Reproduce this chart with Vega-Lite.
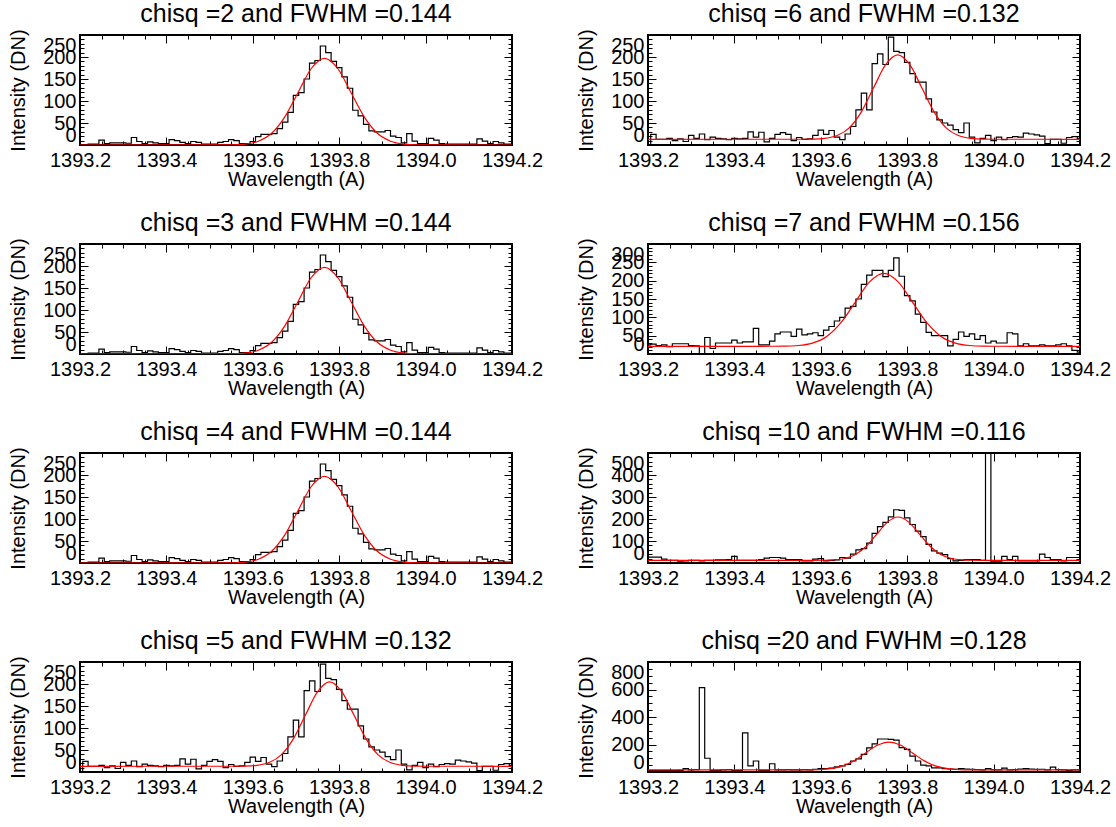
{
"$schema": "https://vega.github.io/schema/vega-lite/v6.json",
"background": "white",
"padding": {"left": 7, "top": 0, "right": 36, "bottom": 5},
"config": {
  "font": "Liberation Sans",
  "view": {"stroke": "black", "strokeWidth": 2},
  "axis": {"domain": false, "grid": false, "tickColor": "black", "tickWidth": 1, "labelColor": "black", "labelFontSize": 20, "labelFont": "Liberation Sans", "titleColor": "black", "titleFontSize": 20, "titleFontWeight": "normal", "titleFont": "Liberation Sans", "labelOverlap": false},
  "axisX": {"labelFlush": false},
  "title": {"fontSize": 25, "fontWeight": "normal", "font": "Liberation Sans", "color": "black", "offset": 2}
},
"datasets": {
"spec": [
{"s":"A","x":1393.2,"y":1},{"s":"A","x":1393.2125,"y":1},{"s":"A","x":1393.225,"y":2},{"s":"A","x":1393.2375,"y":2},{"s":"A","x":1393.25,"y":11},{"s":"A","x":1393.2625,"y":3},{"s":"A","x":1393.275,"y":5},{"s":"A","x":1393.2875,"y":5},{"s":"A","x":1393.3,"y":5},{"s":"A","x":1393.3125,"y":4},
{"s":"A","x":1393.325,"y":17},{"s":"A","x":1393.3375,"y":8},{"s":"A","x":1393.35,"y":3},{"s":"A","x":1393.3625,"y":7},{"s":"A","x":1393.375,"y":5},{"s":"A","x":1393.3875,"y":3},{"s":"A","x":1393.4,"y":3},{"s":"A","x":1393.4125,"y":12},{"s":"A","x":1393.425,"y":10},{"s":"A","x":1393.4375,"y":6},
{"s":"A","x":1393.45,"y":3},{"s":"A","x":1393.4625,"y":8},{"s":"A","x":1393.475,"y":6},{"s":"A","x":1393.4875,"y":2},{"s":"A","x":1393.5,"y":2},{"s":"A","x":1393.5125,"y":2},{"s":"A","x":1393.525,"y":6},{"s":"A","x":1393.5375,"y":8},{"s":"A","x":1393.55,"y":12},{"s":"A","x":1393.5625,"y":10},
{"s":"A","x":1393.575,"y":3},{"s":"A","x":1393.5875,"y":3},{"s":"A","x":1393.6,"y":8},{"s":"A","x":1393.6125,"y":19},{"s":"A","x":1393.625,"y":24},{"s":"A","x":1393.6375,"y":24},{"s":"A","x":1393.65,"y":26},{"s":"A","x":1393.6625,"y":37},{"s":"A","x":1393.675,"y":52},{"s":"A","x":1393.6875,"y":74},
{"s":"A","x":1393.7,"y":113},{"s":"A","x":1393.7125,"y":119},{"s":"A","x":1393.725,"y":150},{"s":"A","x":1393.7375,"y":186},{"s":"A","x":1393.75,"y":192},{"s":"A","x":1393.7625,"y":225},{"s":"A","x":1393.775,"y":210},{"s":"A","x":1393.7875,"y":190},{"s":"A","x":1393.8,"y":176},{"s":"A","x":1393.8125,"y":155},
{"s":"A","x":1393.825,"y":129},{"s":"A","x":1393.8375,"y":79},{"s":"A","x":1393.85,"y":66},{"s":"A","x":1393.8625,"y":47},{"s":"A","x":1393.875,"y":32},{"s":"A","x":1393.8875,"y":30},{"s":"A","x":1393.9,"y":30},{"s":"A","x":1393.9125,"y":33},{"s":"A","x":1393.925,"y":20},{"s":"A","x":1393.9375,"y":17},
{"s":"A","x":1393.95,"y":5},{"s":"A","x":1393.9625,"y":26},{"s":"A","x":1393.975,"y":9},{"s":"A","x":1393.9875,"y":3},{"s":"A","x":1394,"y":3},{"s":"A","x":1394.0125,"y":15},{"s":"A","x":1394.025,"y":11},{"s":"A","x":1394.0375,"y":3},{"s":"A","x":1394.05,"y":2},{"s":"A","x":1394.0625,"y":2},
{"s":"A","x":1394.075,"y":2},{"s":"A","x":1394.0875,"y":2},{"s":"A","x":1394.1,"y":2},{"s":"A","x":1394.1125,"y":2},{"s":"A","x":1394.125,"y":14},{"s":"A","x":1394.1375,"y":9},{"s":"A","x":1394.15,"y":3},{"s":"A","x":1394.1625,"y":8},{"s":"A","x":1394.175,"y":5},{"s":"A","x":1394.1875,"y":2},{"s":"A","x":1394.2,"y":2},
{"s":"B","x":1393.2,"y":0},{"s":"B","x":1393.2125,"y":24},{"s":"B","x":1393.225,"y":13},{"s":"B","x":1393.2375,"y":13},{"s":"B","x":1393.25,"y":15},{"s":"B","x":1393.2625,"y":10},{"s":"B","x":1393.275,"y":14},{"s":"B","x":1393.2875,"y":8},{"s":"B","x":1393.3,"y":22},{"s":"B","x":1393.3125,"y":15},
{"s":"B","x":1393.325,"y":25},{"s":"B","x":1393.3375,"y":12},{"s":"B","x":1393.35,"y":18},{"s":"B","x":1393.3625,"y":15},{"s":"B","x":1393.375,"y":14},{"s":"B","x":1393.3875,"y":12},{"s":"B","x":1393.4,"y":15},{"s":"B","x":1393.4125,"y":14},{"s":"B","x":1393.425,"y":15},{"s":"B","x":1393.4375,"y":30},
{"s":"B","x":1393.45,"y":18},{"s":"B","x":1393.4625,"y":29},{"s":"B","x":1393.475,"y":7},{"s":"B","x":1393.4875,"y":15},{"s":"B","x":1393.5,"y":24},{"s":"B","x":1393.5125,"y":28},{"s":"B","x":1393.525,"y":24},{"s":"B","x":1393.5375,"y":10},{"s":"B","x":1393.55,"y":17},{"s":"B","x":1393.5625,"y":13},
{"s":"B","x":1393.575,"y":14},{"s":"B","x":1393.5875,"y":22},{"s":"B","x":1393.6,"y":34},{"s":"B","x":1393.6125,"y":24},{"s":"B","x":1393.625,"y":33},{"s":"B","x":1393.6375,"y":18},{"s":"B","x":1393.65,"y":12},{"s":"B","x":1393.6625,"y":25},{"s":"B","x":1393.675,"y":42},{"s":"B","x":1393.6875,"y":80},
{"s":"B","x":1393.7,"y":118},{"s":"B","x":1393.7125,"y":80},{"s":"B","x":1393.725,"y":185},{"s":"B","x":1393.7375,"y":207},{"s":"B","x":1393.75,"y":183},{"s":"B","x":1393.7625,"y":245},{"s":"B","x":1393.775,"y":213},{"s":"B","x":1393.7875,"y":210},{"s":"B","x":1393.8,"y":188},{"s":"B","x":1393.8125,"y":162},
{"s":"B","x":1393.825,"y":143},{"s":"B","x":1393.8375,"y":143},{"s":"B","x":1393.85,"y":105},{"s":"B","x":1393.8625,"y":75},{"s":"B","x":1393.875,"y":57},{"s":"B","x":1393.8875,"y":50},{"s":"B","x":1393.9,"y":45},{"s":"B","x":1393.9125,"y":35},{"s":"B","x":1393.925,"y":28},{"s":"B","x":1393.9375,"y":50},
{"s":"B","x":1393.95,"y":18},{"s":"B","x":1393.9625,"y":5},{"s":"B","x":1393.975,"y":15},{"s":"B","x":1393.9875,"y":22},{"s":"B","x":1394,"y":10},{"s":"B","x":1394.0125,"y":18},{"s":"B","x":1394.025,"y":12},{"s":"B","x":1394.0375,"y":17},{"s":"B","x":1394.05,"y":19},{"s":"B","x":1394.0625,"y":18},
{"s":"B","x":1394.075,"y":27},{"s":"B","x":1394.0875,"y":25},{"s":"B","x":1394.1,"y":23},{"s":"B","x":1394.1125,"y":20},{"s":"B","x":1394.125,"y":3},{"s":"B","x":1394.1375,"y":13},{"s":"B","x":1394.15,"y":13},{"s":"B","x":1394.1625,"y":4},{"s":"B","x":1394.175,"y":17},{"s":"B","x":1394.1875,"y":19},{"s":"B","x":1394.2,"y":15},
{"s":"C","x":1393.2,"y":25},{"s":"C","x":1393.2125,"y":27},{"s":"C","x":1393.225,"y":23},{"s":"C","x":1393.2375,"y":25},{"s":"C","x":1393.25,"y":20},{"s":"C","x":1393.2625,"y":28},{"s":"C","x":1393.275,"y":28},{"s":"C","x":1393.2875,"y":28},{"s":"C","x":1393.3,"y":23},{"s":"C","x":1393.3125,"y":22},
{"s":"C","x":1393.325,"y":0},{"s":"C","x":1393.3375,"y":45},{"s":"C","x":1393.35,"y":15},{"s":"C","x":1393.3625,"y":30},{"s":"C","x":1393.375,"y":30},{"s":"C","x":1393.3875,"y":30},{"s":"C","x":1393.4,"y":38},{"s":"C","x":1393.4125,"y":30},{"s":"C","x":1393.425,"y":33},{"s":"C","x":1393.4375,"y":33},
{"s":"C","x":1393.45,"y":70},{"s":"C","x":1393.4625,"y":25},{"s":"C","x":1393.475,"y":25},{"s":"C","x":1393.4875,"y":35},{"s":"C","x":1393.5,"y":55},{"s":"C","x":1393.5125,"y":60},{"s":"C","x":1393.525,"y":60},{"s":"C","x":1393.5375,"y":48},{"s":"C","x":1393.55,"y":68},{"s":"C","x":1393.5625,"y":52},
{"s":"C","x":1393.575,"y":55},{"s":"C","x":1393.5875,"y":58},{"s":"C","x":1393.6,"y":50},{"s":"C","x":1393.6125,"y":65},{"s":"C","x":1393.625,"y":75},{"s":"C","x":1393.6375,"y":90},{"s":"C","x":1393.65,"y":100},{"s":"C","x":1393.6625,"y":125},{"s":"C","x":1393.675,"y":130},{"s":"C","x":1393.6875,"y":150},
{"s":"C","x":1393.7,"y":190},{"s":"C","x":1393.7125,"y":215},{"s":"C","x":1393.725,"y":228},{"s":"C","x":1393.7375,"y":228},{"s":"C","x":1393.75,"y":211},{"s":"C","x":1393.7625,"y":228},{"s":"C","x":1393.775,"y":262},{"s":"C","x":1393.7875,"y":212},{"s":"C","x":1393.8,"y":159},{"s":"C","x":1393.8125,"y":145},
{"s":"C","x":1393.825,"y":109},{"s":"C","x":1393.8375,"y":86},{"s":"C","x":1393.85,"y":59},{"s":"C","x":1393.8625,"y":50},{"s":"C","x":1393.875,"y":50},{"s":"C","x":1393.8875,"y":50},{"s":"C","x":1393.9,"y":22},{"s":"C","x":1393.9125,"y":40},{"s":"C","x":1393.925,"y":60},{"s":"C","x":1393.9375,"y":48},
{"s":"C","x":1393.95,"y":55},{"s":"C","x":1393.9625,"y":40},{"s":"C","x":1393.975,"y":50},{"s":"C","x":1393.9875,"y":30},{"s":"C","x":1394,"y":35},{"s":"C","x":1394.0125,"y":30},{"s":"C","x":1394.025,"y":30},{"s":"C","x":1394.0375,"y":58},{"s":"C","x":1394.05,"y":55},{"s":"C","x":1394.0625,"y":22},
{"s":"C","x":1394.075,"y":28},{"s":"C","x":1394.0875,"y":22},{"s":"C","x":1394.1,"y":22},{"s":"C","x":1394.1125,"y":25},{"s":"C","x":1394.125,"y":22},{"s":"C","x":1394.1375,"y":22},{"s":"C","x":1394.15,"y":25},{"s":"C","x":1394.1625,"y":28},{"s":"C","x":1394.175,"y":22},{"s":"C","x":1394.1875,"y":10},{"s":"C","x":1394.2,"y":5},
{"s":"D","x":1393.2,"y":27},{"s":"D","x":1393.2125,"y":27},{"s":"D","x":1393.225,"y":27},{"s":"D","x":1393.2375,"y":18},{"s":"D","x":1393.25,"y":12},{"s":"D","x":1393.2625,"y":12},{"s":"D","x":1393.275,"y":8},{"s":"D","x":1393.2875,"y":10},{"s":"D","x":1393.3,"y":12},{"s":"D","x":1393.3125,"y":12},
{"s":"D","x":1393.325,"y":10},{"s":"D","x":1393.3375,"y":12},{"s":"D","x":1393.35,"y":12},{"s":"D","x":1393.3625,"y":14},{"s":"D","x":1393.375,"y":14},{"s":"D","x":1393.3875,"y":15},{"s":"D","x":1393.4,"y":30},{"s":"D","x":1393.4125,"y":12},{"s":"D","x":1393.425,"y":12},{"s":"D","x":1393.4375,"y":12},
{"s":"D","x":1393.45,"y":12},{"s":"D","x":1393.4625,"y":15},{"s":"D","x":1393.475,"y":22},{"s":"D","x":1393.4875,"y":25},{"s":"D","x":1393.5,"y":25},{"s":"D","x":1393.5125,"y":22},{"s":"D","x":1393.525,"y":15},{"s":"D","x":1393.5375,"y":15},{"s":"D","x":1393.55,"y":15},{"s":"D","x":1393.5625,"y":10},
{"s":"D","x":1393.575,"y":10},{"s":"D","x":1393.5875,"y":18},{"s":"D","x":1393.6,"y":20},{"s":"D","x":1393.6125,"y":10},{"s":"D","x":1393.625,"y":12},{"s":"D","x":1393.6375,"y":14},{"s":"D","x":1393.65,"y":25},{"s":"D","x":1393.6625,"y":22},{"s":"D","x":1393.675,"y":40},{"s":"D","x":1393.6875,"y":60},
{"s":"D","x":1393.7,"y":65},{"s":"D","x":1393.7125,"y":90},{"s":"D","x":1393.725,"y":135},{"s":"D","x":1393.7375,"y":165},{"s":"D","x":1393.75,"y":185},{"s":"D","x":1393.7625,"y":210},{"s":"D","x":1393.775,"y":242},{"s":"D","x":1393.7875,"y":239},{"s":"D","x":1393.8,"y":205},{"s":"D","x":1393.8125,"y":175},
{"s":"D","x":1393.825,"y":145},{"s":"D","x":1393.8375,"y":120},{"s":"D","x":1393.85,"y":85},{"s":"D","x":1393.8625,"y":55},{"s":"D","x":1393.875,"y":45},{"s":"D","x":1393.8875,"y":38},{"s":"D","x":1393.9,"y":20},{"s":"D","x":1393.9125,"y":10},{"s":"D","x":1393.925,"y":12},{"s":"D","x":1393.9375,"y":15},
{"s":"D","x":1393.95,"y":15},{"s":"D","x":1393.9625,"y":15},{"s":"D","x":1393.975,"y":12},{"s":"D","x":1393.9875,"y":560},{"s":"D","x":1394,"y":5},{"s":"D","x":1394.0125,"y":5},{"s":"D","x":1394.025,"y":30},{"s":"D","x":1394.0375,"y":15},{"s":"D","x":1394.05,"y":30},{"s":"D","x":1394.0625,"y":10},
{"s":"D","x":1394.075,"y":10},{"s":"D","x":1394.0875,"y":10},{"s":"D","x":1394.1,"y":10},{"s":"D","x":1394.1125,"y":40},{"s":"D","x":1394.125,"y":25},{"s":"D","x":1394.1375,"y":15},{"s":"D","x":1394.15,"y":15},{"s":"D","x":1394.1625,"y":10},{"s":"D","x":1394.175,"y":25},{"s":"D","x":1394.1875,"y":25},{"s":"D","x":1394.2,"y":25},
{"s":"E","x":1393.2,"y":10},{"s":"E","x":1393.2125,"y":10},{"s":"E","x":1393.225,"y":10},{"s":"E","x":1393.2375,"y":10},{"s":"E","x":1393.25,"y":10},{"s":"E","x":1393.2625,"y":10},{"s":"E","x":1393.275,"y":12},{"s":"E","x":1393.2875,"y":25},{"s":"E","x":1393.3,"y":15},{"s":"E","x":1393.3125,"y":18},
{"s":"E","x":1393.325,"y":613},{"s":"E","x":1393.3375,"y":100},{"s":"E","x":1393.35,"y":10},{"s":"E","x":1393.3625,"y":12},{"s":"E","x":1393.375,"y":15},{"s":"E","x":1393.3875,"y":18},{"s":"E","x":1393.4,"y":10},{"s":"E","x":1393.4125,"y":12},{"s":"E","x":1393.425,"y":285},{"s":"E","x":1393.4375,"y":45},
{"s":"E","x":1393.45,"y":80},{"s":"E","x":1393.4625,"y":12},{"s":"E","x":1393.475,"y":12},{"s":"E","x":1393.4875,"y":60},{"s":"E","x":1393.5,"y":15},{"s":"E","x":1393.5125,"y":15},{"s":"E","x":1393.525,"y":18},{"s":"E","x":1393.5375,"y":15},{"s":"E","x":1393.55,"y":15},{"s":"E","x":1393.5625,"y":18},
{"s":"E","x":1393.575,"y":15},{"s":"E","x":1393.5875,"y":20},{"s":"E","x":1393.6,"y":25},{"s":"E","x":1393.6125,"y":25},{"s":"E","x":1393.625,"y":28},{"s":"E","x":1393.6375,"y":38},{"s":"E","x":1393.65,"y":45},{"s":"E","x":1393.6625,"y":55},{"s":"E","x":1393.675,"y":80},{"s":"E","x":1393.6875,"y":95},
{"s":"E","x":1393.7,"y":128},{"s":"E","x":1393.7125,"y":175},{"s":"E","x":1393.725,"y":205},{"s":"E","x":1393.7375,"y":240},{"s":"E","x":1393.75,"y":240},{"s":"E","x":1393.7625,"y":238},{"s":"E","x":1393.775,"y":232},{"s":"E","x":1393.7875,"y":177},{"s":"E","x":1393.8,"y":165},{"s":"E","x":1393.8125,"y":115},
{"s":"E","x":1393.825,"y":80},{"s":"E","x":1393.8375,"y":50},{"s":"E","x":1393.85,"y":45},{"s":"E","x":1393.8625,"y":30},{"s":"E","x":1393.875,"y":30},{"s":"E","x":1393.8875,"y":25},{"s":"E","x":1393.9,"y":22},{"s":"E","x":1393.9125,"y":20},{"s":"E","x":1393.925,"y":25},{"s":"E","x":1393.9375,"y":22},
{"s":"E","x":1393.95,"y":20},{"s":"E","x":1393.9625,"y":18},{"s":"E","x":1393.975,"y":15},{"s":"E","x":1393.9875,"y":25},{"s":"E","x":1394,"y":18},{"s":"E","x":1394.0125,"y":15},{"s":"E","x":1394.025,"y":28},{"s":"E","x":1394.0375,"y":15},{"s":"E","x":1394.05,"y":18},{"s":"E","x":1394.0625,"y":22},
{"s":"E","x":1394.075,"y":25},{"s":"E","x":1394.0875,"y":22},{"s":"E","x":1394.1,"y":20},{"s":"E","x":1394.1125,"y":20},{"s":"E","x":1394.125,"y":15},{"s":"E","x":1394.1375,"y":35},{"s":"E","x":1394.15,"y":18},{"s":"E","x":1394.1625,"y":15},{"s":"E","x":1394.175,"y":12},{"s":"E","x":1394.1875,"y":15},{"s":"E","x":1394.2,"y":15}
],
"fits": [
{"s":"A","x":1393.2,"y":0},{"s":"A","x":1393.5212,"y":0.07},{"s":"A","x":1393.5518,"y":0.43},{"s":"A","x":1393.5824,"y":2.19},{"s":"A","x":1393.613,"y":8.65},{"s":"A","x":1393.6436,"y":26.65},{"s":"A","x":1393.6742,"y":63.97},{"s":"A","x":1393.7048,"y":119.48},{"s":"A","x":1393.7354,"y":173.85},{"s":"A","x":1393.766,"y":197},{"s":"A","x":1393.7966,"y":173.85},{"s":"A","x":1393.8272,"y":119.48},{"s":"A","x":1393.8578,"y":63.97},{"s":"A","x":1393.8884,"y":26.65},{"s":"A","x":1393.919,"y":8.65},{"s":"A","x":1393.9496,"y":2.19},{"s":"A","x":1393.9802,"y":0.43},{"s":"A","x":1394.0108,"y":0.07},{"s":"A","x":1394.2,"y":0},
{"s":"B","x":1393.2,"y":13},{"s":"B","x":1393.5536,"y":13.06},{"s":"B","x":1393.5817,"y":13.42},{"s":"B","x":1393.6097,"y":15.13},{"s":"B","x":1393.6378,"y":21.43},{"s":"B","x":1393.6658,"y":38.98},{"s":"B","x":1393.6939,"y":75.34},{"s":"B","x":1393.7219,"y":129.45},{"s":"B","x":1393.75,"y":182.44},{"s":"B","x":1393.778,"y":205},{"s":"B","x":1393.806,"y":182.44},{"s":"B","x":1393.8341,"y":129.45},{"s":"B","x":1393.8621,"y":75.34},{"s":"B","x":1393.8902,"y":38.98},{"s":"B","x":1393.9182,"y":21.43},{"s":"B","x":1393.9463,"y":15.13},{"s":"B","x":1393.9743,"y":13.42},{"s":"B","x":1394.0024,"y":13.06},{"s":"B","x":1394.2,"y":13},
{"s":"C","x":1393.2,"y":21},{"s":"C","x":1393.4812,"y":21.07},{"s":"C","x":1393.5143,"y":21.44},{"s":"C","x":1393.5474,"y":23.21},{"s":"C","x":1393.5805,"y":29.74},{"s":"C","x":1393.6136,"y":47.92},{"s":"C","x":1393.6467,"y":85.62},{"s":"C","x":1393.6798,"y":141.69},{"s":"C","x":1393.7129,"y":196.62},{"s":"C","x":1393.746,"y":220},{"s":"C","x":1393.7791,"y":196.62},{"s":"C","x":1393.8122,"y":141.69},{"s":"C","x":1393.8453,"y":85.62},{"s":"C","x":1393.8784,"y":47.92},{"s":"C","x":1393.9115,"y":29.74},{"s":"C","x":1393.9446,"y":23.21},{"s":"C","x":1393.9777,"y":21.44},{"s":"C","x":1394.0108,"y":21.07},{"s":"C","x":1394.2,"y":21},
{"s":"D","x":1393.2,"y":12},{"s":"D","x":1393.5818,"y":12.07},{"s":"D","x":1393.6065,"y":12.43},{"s":"D","x":1393.6311,"y":14.19},{"s":"D","x":1393.6558,"y":20.65},{"s":"D","x":1393.6804,"y":38.65},{"s":"D","x":1393.7051,"y":75.97},{"s":"D","x":1393.7297,"y":131.48},{"s":"D","x":1393.7544,"y":185.85},{"s":"D","x":1393.779,"y":209},{"s":"D","x":1393.8037,"y":185.85},{"s":"D","x":1393.8283,"y":131.48},{"s":"D","x":1393.853,"y":75.97},{"s":"D","x":1393.8776,"y":38.65},{"s":"D","x":1393.9023,"y":20.65},{"s":"D","x":1393.9269,"y":14.19},{"s":"D","x":1393.9516,"y":12.43},{"s":"D","x":1393.9762,"y":12.07},{"s":"D","x":1394.2,"y":12},
{"s":"E","x":1393.2,"y":15},{"s":"E","x":1393.5404,"y":15.07},{"s":"E","x":1393.5676,"y":15.45},{"s":"E","x":1393.5948,"y":17.25},{"s":"E","x":1393.622,"y":23.91},{"s":"E","x":1393.6492,"y":42.47},{"s":"E","x":1393.6764,"y":80.91},{"s":"E","x":1393.7036,"y":138.12},{"s":"E","x":1393.7308,"y":194.15},{"s":"E","x":1393.758,"y":218},{"s":"E","x":1393.7852,"y":194.15},{"s":"E","x":1393.8124,"y":138.12},{"s":"E","x":1393.8396,"y":80.91},{"s":"E","x":1393.8668,"y":42.47},{"s":"E","x":1393.894,"y":23.91},{"s":"E","x":1393.9212,"y":17.25},{"s":"E","x":1393.9484,"y":15.45},{"s":"E","x":1393.9756,"y":15.07},{"s":"E","x":1394.2,"y":15}
]
},
"columns": 2,
"spacing": {"row": 99, "column": 136},
"bounds": "flush",
"concat": [
{"title": "chisq =2 and FWHM =0.144", "width": 432, "height": 110, "resolve": {"axis": {"x": "independent", "y": "independent"}},
 "layer": [
  {"data": {"name": "spec"}, "transform": [{"filter": "datum.s === 'A'"}], "mark": {"type": "line", "interpolate": "step", "color": "black", "strokeWidth": 1.2, "clip": true},
   "encoding": {"x": {"field": "x", "type": "quantitative", "scale": {"domain": [1393.2, 1394.2], "nice": false, "zero": false}, "axis": {"orient": "bottom", "title": "Wavelength (A)", "tickCount": 20, "format": ".1f", "labelExpr": "abs(datum.value*5-round(datum.value*5))<0.01 ? datum.label : ''", "tickSize": {"condition": {"test": "abs(datum.value*5-round(datum.value*5))<0.01", "value": -8}, "value": -4}, "labelPadding": 13, "titlePadding": -5}},
                "y": {"field": "y", "type": "quantitative", "scale": {"domain": [0, 250], "nice": false}, "axis": {"orient": "left", "title": "Intensity (DN)", "tickCount": 25, "labelExpr": "datum.value % 50 === 0 ? datum.label : ''", "tickSize": {"condition": {"test": "datum.value % 50 === 0", "value": -8}, "value": -4}, "labelFlush": true, "labelPadding": 12, "titlePadding": 14}}}},
  {"data": {"name": "fits"}, "transform": [{"filter": "datum.s === 'A'"}], "mark": {"type": "line", "interpolate": "monotone", "color": "red", "strokeWidth": 1.2, "clip": true},
   "encoding": {"x": {"field": "x", "type": "quantitative", "scale": {"domain": [1393.2, 1394.2], "nice": false, "zero": false}, "axis": {"orient": "top", "title": null, "labels": false, "tickCount": 20, "tickSize": {"condition": {"test": "abs(datum.value*5-round(datum.value*5))<0.01", "value": -8}, "value": -4}}},
                "y": {"field": "y", "type": "quantitative", "scale": {"domain": [0, 250], "nice": false}, "axis": {"orient": "right", "title": null, "labels": false, "tickCount": 25, "tickSize": {"condition": {"test": "datum.value % 50 === 0", "value": -8}, "value": -4}}}}}
 ]},
{"title": "chisq =6 and FWHM =0.132", "width": 432, "height": 110, "resolve": {"axis": {"x": "independent", "y": "independent"}},
 "layer": [
  {"data": {"name": "spec"}, "transform": [{"filter": "datum.s === 'B'"}], "mark": {"type": "line", "interpolate": "step", "color": "black", "strokeWidth": 1.2, "clip": true},
   "encoding": {"x": {"field": "x", "type": "quantitative", "scale": {"domain": [1393.2, 1394.2], "nice": false, "zero": false}, "axis": {"orient": "bottom", "title": "Wavelength (A)", "tickCount": 20, "format": ".1f", "labelExpr": "abs(datum.value*5-round(datum.value*5))<0.01 ? datum.label : ''", "tickSize": {"condition": {"test": "abs(datum.value*5-round(datum.value*5))<0.01", "value": -8}, "value": -4}, "labelPadding": 13, "titlePadding": -5}},
                "y": {"field": "y", "type": "quantitative", "scale": {"domain": [0, 250], "nice": false}, "axis": {"orient": "left", "title": "Intensity (DN)", "tickCount": 25, "labelExpr": "datum.value % 50 === 0 ? datum.label : ''", "tickSize": {"condition": {"test": "datum.value % 50 === 0", "value": -8}, "value": -4}, "labelFlush": true, "labelPadding": 12, "titlePadding": 14}}}},
  {"data": {"name": "fits"}, "transform": [{"filter": "datum.s === 'B'"}], "mark": {"type": "line", "interpolate": "monotone", "color": "red", "strokeWidth": 1.2, "clip": true},
   "encoding": {"x": {"field": "x", "type": "quantitative", "scale": {"domain": [1393.2, 1394.2], "nice": false, "zero": false}, "axis": {"orient": "top", "title": null, "labels": false, "tickCount": 20, "tickSize": {"condition": {"test": "abs(datum.value*5-round(datum.value*5))<0.01", "value": -8}, "value": -4}}},
                "y": {"field": "y", "type": "quantitative", "scale": {"domain": [0, 250], "nice": false}, "axis": {"orient": "right", "title": null, "labels": false, "tickCount": 25, "tickSize": {"condition": {"test": "datum.value % 50 === 0", "value": -8}, "value": -4}}}}}
 ]},
{"title": "chisq =3 and FWHM =0.144", "width": 432, "height": 110, "resolve": {"axis": {"x": "independent", "y": "independent"}},
 "layer": [
  {"data": {"name": "spec"}, "transform": [{"filter": "datum.s === 'A'"}], "mark": {"type": "line", "interpolate": "step", "color": "black", "strokeWidth": 1.2, "clip": true},
   "encoding": {"x": {"field": "x", "type": "quantitative", "scale": {"domain": [1393.2, 1394.2], "nice": false, "zero": false}, "axis": {"orient": "bottom", "title": "Wavelength (A)", "tickCount": 20, "format": ".1f", "labelExpr": "abs(datum.value*5-round(datum.value*5))<0.01 ? datum.label : ''", "tickSize": {"condition": {"test": "abs(datum.value*5-round(datum.value*5))<0.01", "value": -8}, "value": -4}, "labelPadding": 13, "titlePadding": -5}},
                "y": {"field": "y", "type": "quantitative", "scale": {"domain": [0, 250], "nice": false}, "axis": {"orient": "left", "title": "Intensity (DN)", "tickCount": 25, "labelExpr": "datum.value % 50 === 0 ? datum.label : ''", "tickSize": {"condition": {"test": "datum.value % 50 === 0", "value": -8}, "value": -4}, "labelFlush": true, "labelPadding": 12, "titlePadding": 14}}}},
  {"data": {"name": "fits"}, "transform": [{"filter": "datum.s === 'A'"}], "mark": {"type": "line", "interpolate": "monotone", "color": "red", "strokeWidth": 1.2, "clip": true},
   "encoding": {"x": {"field": "x", "type": "quantitative", "scale": {"domain": [1393.2, 1394.2], "nice": false, "zero": false}, "axis": {"orient": "top", "title": null, "labels": false, "tickCount": 20, "tickSize": {"condition": {"test": "abs(datum.value*5-round(datum.value*5))<0.01", "value": -8}, "value": -4}}},
                "y": {"field": "y", "type": "quantitative", "scale": {"domain": [0, 250], "nice": false}, "axis": {"orient": "right", "title": null, "labels": false, "tickCount": 25, "tickSize": {"condition": {"test": "datum.value % 50 === 0", "value": -8}, "value": -4}}}}}
 ]},
{"title": "chisq =7 and FWHM =0.156", "width": 432, "height": 110, "resolve": {"axis": {"x": "independent", "y": "independent"}},
 "layer": [
  {"data": {"name": "spec"}, "transform": [{"filter": "datum.s === 'C'"}], "mark": {"type": "line", "interpolate": "step", "color": "black", "strokeWidth": 1.2, "clip": true},
   "encoding": {"x": {"field": "x", "type": "quantitative", "scale": {"domain": [1393.2, 1394.2], "nice": false, "zero": false}, "axis": {"orient": "bottom", "title": "Wavelength (A)", "tickCount": 20, "format": ".1f", "labelExpr": "abs(datum.value*5-round(datum.value*5))<0.01 ? datum.label : ''", "tickSize": {"condition": {"test": "abs(datum.value*5-round(datum.value*5))<0.01", "value": -8}, "value": -4}, "labelPadding": 13, "titlePadding": -5}},
                "y": {"field": "y", "type": "quantitative", "scale": {"domain": [0, 300], "nice": false}, "axis": {"orient": "left", "title": "Intensity (DN)", "tickCount": 30, "labelExpr": "datum.value % 50 === 0 ? datum.label : ''", "tickSize": {"condition": {"test": "datum.value % 50 === 0", "value": -8}, "value": -4}, "labelFlush": true, "labelPadding": 12, "titlePadding": 14}}}},
  {"data": {"name": "fits"}, "transform": [{"filter": "datum.s === 'C'"}], "mark": {"type": "line", "interpolate": "monotone", "color": "red", "strokeWidth": 1.2, "clip": true},
   "encoding": {"x": {"field": "x", "type": "quantitative", "scale": {"domain": [1393.2, 1394.2], "nice": false, "zero": false}, "axis": {"orient": "top", "title": null, "labels": false, "tickCount": 20, "tickSize": {"condition": {"test": "abs(datum.value*5-round(datum.value*5))<0.01", "value": -8}, "value": -4}}},
                "y": {"field": "y", "type": "quantitative", "scale": {"domain": [0, 300], "nice": false}, "axis": {"orient": "right", "title": null, "labels": false, "tickCount": 30, "tickSize": {"condition": {"test": "datum.value % 50 === 0", "value": -8}, "value": -4}}}}}
 ]},
{"title": "chisq =4 and FWHM =0.144", "width": 432, "height": 110, "resolve": {"axis": {"x": "independent", "y": "independent"}},
 "layer": [
  {"data": {"name": "spec"}, "transform": [{"filter": "datum.s === 'A'"}], "mark": {"type": "line", "interpolate": "step", "color": "black", "strokeWidth": 1.2, "clip": true},
   "encoding": {"x": {"field": "x", "type": "quantitative", "scale": {"domain": [1393.2, 1394.2], "nice": false, "zero": false}, "axis": {"orient": "bottom", "title": "Wavelength (A)", "tickCount": 20, "format": ".1f", "labelExpr": "abs(datum.value*5-round(datum.value*5))<0.01 ? datum.label : ''", "tickSize": {"condition": {"test": "abs(datum.value*5-round(datum.value*5))<0.01", "value": -8}, "value": -4}, "labelPadding": 13, "titlePadding": -5}},
                "y": {"field": "y", "type": "quantitative", "scale": {"domain": [0, 250], "nice": false}, "axis": {"orient": "left", "title": "Intensity (DN)", "tickCount": 25, "labelExpr": "datum.value % 50 === 0 ? datum.label : ''", "tickSize": {"condition": {"test": "datum.value % 50 === 0", "value": -8}, "value": -4}, "labelFlush": true, "labelPadding": 12, "titlePadding": 14}}}},
  {"data": {"name": "fits"}, "transform": [{"filter": "datum.s === 'A'"}], "mark": {"type": "line", "interpolate": "monotone", "color": "red", "strokeWidth": 1.2, "clip": true},
   "encoding": {"x": {"field": "x", "type": "quantitative", "scale": {"domain": [1393.2, 1394.2], "nice": false, "zero": false}, "axis": {"orient": "top", "title": null, "labels": false, "tickCount": 20, "tickSize": {"condition": {"test": "abs(datum.value*5-round(datum.value*5))<0.01", "value": -8}, "value": -4}}},
                "y": {"field": "y", "type": "quantitative", "scale": {"domain": [0, 250], "nice": false}, "axis": {"orient": "right", "title": null, "labels": false, "tickCount": 25, "tickSize": {"condition": {"test": "datum.value % 50 === 0", "value": -8}, "value": -4}}}}}
 ]},
{"title": "chisq =10 and FWHM =0.116", "width": 432, "height": 110, "resolve": {"axis": {"x": "independent", "y": "independent"}},
 "layer": [
  {"data": {"name": "spec"}, "transform": [{"filter": "datum.s === 'D'"}], "mark": {"type": "line", "interpolate": "step", "color": "black", "strokeWidth": 1.2, "clip": true},
   "encoding": {"x": {"field": "x", "type": "quantitative", "scale": {"domain": [1393.2, 1394.2], "nice": false, "zero": false}, "axis": {"orient": "bottom", "title": "Wavelength (A)", "tickCount": 20, "format": ".1f", "labelExpr": "abs(datum.value*5-round(datum.value*5))<0.01 ? datum.label : ''", "tickSize": {"condition": {"test": "abs(datum.value*5-round(datum.value*5))<0.01", "value": -8}, "value": -4}, "labelPadding": 13, "titlePadding": -5}},
                "y": {"field": "y", "type": "quantitative", "scale": {"domain": [0, 500], "nice": false}, "axis": {"orient": "left", "title": "Intensity (DN)", "tickCount": 25, "labelExpr": "datum.value % 100 === 0 ? datum.label : ''", "tickSize": {"condition": {"test": "datum.value % 100 === 0", "value": -8}, "value": -4}, "labelFlush": true, "labelPadding": 12, "titlePadding": 14}}}},
  {"data": {"name": "fits"}, "transform": [{"filter": "datum.s === 'D'"}], "mark": {"type": "line", "interpolate": "monotone", "color": "red", "strokeWidth": 1.2, "clip": true},
   "encoding": {"x": {"field": "x", "type": "quantitative", "scale": {"domain": [1393.2, 1394.2], "nice": false, "zero": false}, "axis": {"orient": "top", "title": null, "labels": false, "tickCount": 20, "tickSize": {"condition": {"test": "abs(datum.value*5-round(datum.value*5))<0.01", "value": -8}, "value": -4}}},
                "y": {"field": "y", "type": "quantitative", "scale": {"domain": [0, 500], "nice": false}, "axis": {"orient": "right", "title": null, "labels": false, "tickCount": 25, "tickSize": {"condition": {"test": "datum.value % 100 === 0", "value": -8}, "value": -4}}}}}
 ]},
{"title": "chisq =5 and FWHM =0.132", "width": 432, "height": 110, "resolve": {"axis": {"x": "independent", "y": "independent"}},
 "layer": [
  {"data": {"name": "spec"}, "transform": [{"filter": "datum.s === 'B'"}], "mark": {"type": "line", "interpolate": "step", "color": "black", "strokeWidth": 1.2, "clip": true},
   "encoding": {"x": {"field": "x", "type": "quantitative", "scale": {"domain": [1393.2, 1394.2], "nice": false, "zero": false}, "axis": {"orient": "bottom", "title": "Wavelength (A)", "tickCount": 20, "format": ".1f", "labelExpr": "abs(datum.value*5-round(datum.value*5))<0.01 ? datum.label : ''", "tickSize": {"condition": {"test": "abs(datum.value*5-round(datum.value*5))<0.01", "value": -8}, "value": -4}, "labelPadding": 13, "titlePadding": -5}},
                "y": {"field": "y", "type": "quantitative", "scale": {"domain": [0, 250], "nice": false}, "axis": {"orient": "left", "title": "Intensity (DN)", "tickCount": 25, "labelExpr": "datum.value % 50 === 0 ? datum.label : ''", "tickSize": {"condition": {"test": "datum.value % 50 === 0", "value": -8}, "value": -4}, "labelFlush": true, "labelPadding": 12, "titlePadding": 14}}}},
  {"data": {"name": "fits"}, "transform": [{"filter": "datum.s === 'B'"}], "mark": {"type": "line", "interpolate": "monotone", "color": "red", "strokeWidth": 1.2, "clip": true},
   "encoding": {"x": {"field": "x", "type": "quantitative", "scale": {"domain": [1393.2, 1394.2], "nice": false, "zero": false}, "axis": {"orient": "top", "title": null, "labels": false, "tickCount": 20, "tickSize": {"condition": {"test": "abs(datum.value*5-round(datum.value*5))<0.01", "value": -8}, "value": -4}}},
                "y": {"field": "y", "type": "quantitative", "scale": {"domain": [0, 250], "nice": false}, "axis": {"orient": "right", "title": null, "labels": false, "tickCount": 25, "tickSize": {"condition": {"test": "datum.value % 50 === 0", "value": -8}, "value": -4}}}}}
 ]},
{"title": "chisq =20 and FWHM =0.128", "width": 432, "height": 110, "resolve": {"axis": {"x": "independent", "y": "independent"}},
 "layer": [
  {"data": {"name": "spec"}, "transform": [{"filter": "datum.s === 'E'"}], "mark": {"type": "line", "interpolate": "step", "color": "black", "strokeWidth": 1.2, "clip": true},
   "encoding": {"x": {"field": "x", "type": "quantitative", "scale": {"domain": [1393.2, 1394.2], "nice": false, "zero": false}, "axis": {"orient": "bottom", "title": "Wavelength (A)", "tickCount": 20, "format": ".1f", "labelExpr": "abs(datum.value*5-round(datum.value*5))<0.01 ? datum.label : ''", "tickSize": {"condition": {"test": "abs(datum.value*5-round(datum.value*5))<0.01", "value": -8}, "value": -4}, "labelPadding": 13, "titlePadding": -5}},
                "y": {"field": "y", "type": "quantitative", "scale": {"domain": [0, 800], "nice": false}, "axis": {"orient": "left", "title": "Intensity (DN)", "tickCount": 16, "labelExpr": "datum.value % 200 === 0 ? datum.label : ''", "tickSize": {"condition": {"test": "datum.value % 200 === 0", "value": -8}, "value": -4}, "labelFlush": true, "labelPadding": 12, "titlePadding": 14}}}},
  {"data": {"name": "fits"}, "transform": [{"filter": "datum.s === 'E'"}], "mark": {"type": "line", "interpolate": "monotone", "color": "red", "strokeWidth": 1.2, "clip": true},
   "encoding": {"x": {"field": "x", "type": "quantitative", "scale": {"domain": [1393.2, 1394.2], "nice": false, "zero": false}, "axis": {"orient": "top", "title": null, "labels": false, "tickCount": 20, "tickSize": {"condition": {"test": "abs(datum.value*5-round(datum.value*5))<0.01", "value": -8}, "value": -4}}},
                "y": {"field": "y", "type": "quantitative", "scale": {"domain": [0, 800], "nice": false}, "axis": {"orient": "right", "title": null, "labels": false, "tickCount": 16, "tickSize": {"condition": {"test": "datum.value % 200 === 0", "value": -8}, "value": -4}}}}}
 ]}
]
}
